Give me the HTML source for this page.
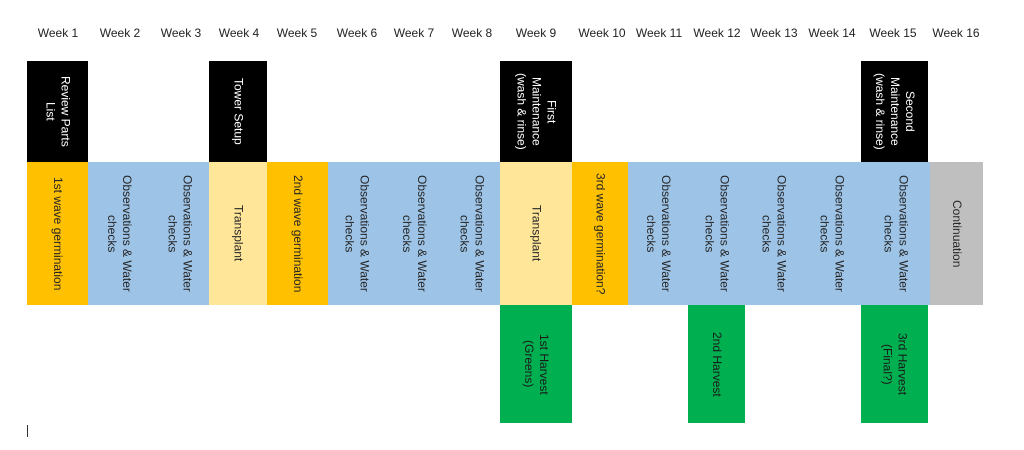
<!DOCTYPE html>
<html><head><meta charset="utf-8"><style>
body{margin:0;width:1024px;height:450px;background:#fff;position:relative;overflow:hidden;font-family:"Liberation Sans",sans-serif}
.w{position:absolute;top:26px;font-size:12px;color:#222;transform:translateX(-50%);white-space:nowrap}
.c{position:absolute;display:flex;align-items:center;justify-content:center;writing-mode:vertical-rl;text-align:center;font-size:12px;line-height:15px;color:#262626}
.k{background:#000;color:#fff;top:61px;height:101px}
.o{background:#ffc000;top:162px;height:143px}
.b{background:#9dc3e6;top:162px;height:143px}
.y{background:#ffe699;top:162px;height:143px}
.g{background:#00b050;top:305px;height:118px;color:#1a1a1a}
.gr{background:#bfbfbf;top:162px;height:143px}
</style></head><body>
<div class="w" style="left:58px">Week 1</div>
<div class="w" style="left:120px">Week 2</div>
<div class="w" style="left:181px">Week 3</div>
<div class="w" style="left:239px">Week 4</div>
<div class="w" style="left:297px">Week 5</div>
<div class="w" style="left:357px">Week 6</div>
<div class="w" style="left:414px">Week 7</div>
<div class="w" style="left:472px">Week 8</div>
<div class="w" style="left:536px">Week 9</div>
<div class="w" style="left:602px">Week 10</div>
<div class="w" style="left:659px">Week 11</div>
<div class="w" style="left:717px">Week 12</div>
<div class="w" style="left:774px">Week 13</div>
<div class="w" style="left:832px">Week 14</div>
<div class="w" style="left:893px">Week 15</div>
<div class="w" style="left:956px">Week 16</div>

<div class="c k" style="left:27px;width:61px">Review Parts<br>List</div>
<div class="c k" style="left:209px;width:58px">Tower Setup</div>
<div class="c k" style="left:500px;width:72px">First<br>Maintenance<br>(wash &amp; rinse)</div>
<div class="c k" style="left:861px;width:67px">Second<br>Maintenance<br>(wash &amp; rinse)</div>

<div class="c o" style="left:27px;width:61px">1st wave germination</div>
<div class="c b" style="left:88px;width:62px">Observations &amp; Water<br>checks</div>
<div class="c b" style="left:150px;width:59px">Observations &amp; Water<br>checks</div>
<div class="c y" style="left:209px;width:58px">Transplant</div>
<div class="c o" style="left:267px;width:61px">2nd wave germination</div>
<div class="c b" style="left:328px;width:57px">Observations &amp; Water<br>checks</div>
<div class="c b" style="left:385px;width:58px">Observations &amp; Water<br>checks</div>
<div class="c b" style="left:443px;width:57px">Observations &amp; Water<br>checks</div>
<div class="c y" style="left:500px;width:72px">Transplant</div>
<div class="c o" style="left:572px;width:56px">3rd wave germination?</div>
<div class="c b" style="left:628px;width:60px">Observations &amp; Water<br>checks</div>
<div class="c b" style="left:688px;width:57px">Observations &amp; Water<br>checks</div>
<div class="c b" style="left:745px;width:57px">Observations &amp; Water<br>checks</div>
<div class="c b" style="left:802px;width:59px">Observations &amp; Water<br>checks</div>
<div class="c b" style="left:861px;width:69px">Observations &amp; Water<br>checks</div>
<div class="c gr" style="left:930px;width:53px">Continuation</div>

<div class="c g" style="left:500px;width:72px">1st Harvest<br>(Greens)</div>
<div class="c g" style="left:688px;width:57px">2nd Harvest</div>
<div class="c g" style="left:861px;width:67px">3rd Harvest<br>(Final?)</div>

<div style="position:absolute;left:27px;top:425px;width:1px;height:12px;background:#333"></div>
</body></html>
